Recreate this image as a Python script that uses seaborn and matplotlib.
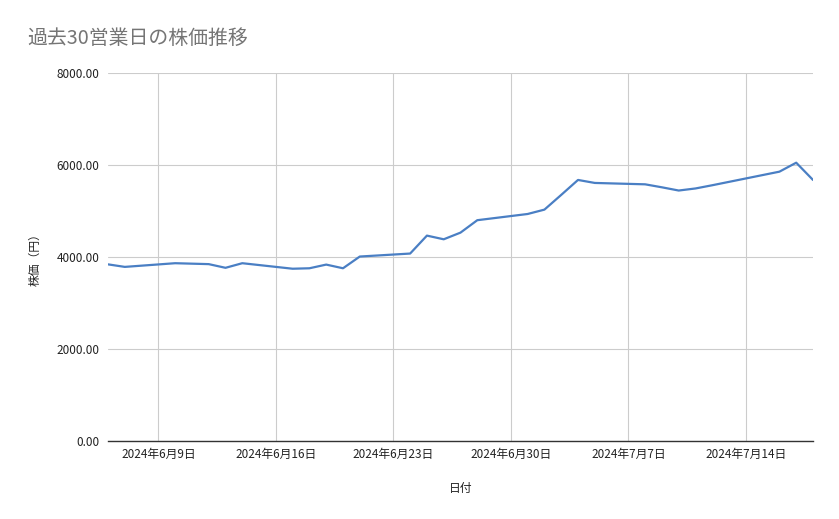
import matplotlib
matplotlib.use("Agg")
import matplotlib.pyplot as plt
import matplotlib.dates as mdates
from matplotlib.ticker import FuncFormatter, FixedLocator
import seaborn as sns
import pandas as pd

# Data
dates = [
    "2024-06-06", "2024-06-07",
    "2024-06-10", "2024-06-11", "2024-06-12", "2024-06-13", "2024-06-14",
    "2024-06-17", "2024-06-18", "2024-06-19", "2024-06-20", "2024-06-21",
    "2024-06-24", "2024-06-25", "2024-06-26", "2024-06-27", "2024-06-28",
    "2024-07-01", "2024-07-02", "2024-07-03", "2024-07-04", "2024-07-05",
    "2024-07-08", "2024-07-09", "2024-07-10", "2024-07-11", "2024-07-12",
    "2024-07-16", "2024-07-17", "2024-07-18",
]
prices = [
    3840, 3785,
    3865, 3855, 3845, 3765, 3865,
    3745, 3755, 3835, 3755, 4010,
    4075, 4465, 4385, 4530, 4800,
    4935, 5030, 5350, 5675, 5610,
    5580, 5515, 5445, 5490, 5560,
    5855, 6050, 5675,
]
tick_dates = ["2024-06-09", "2024-06-16", "2024-06-23", "2024-06-30", "2024-07-07", "2024-07-14"]
y_ticks = [0, 2000, 4000, 6000, 8000]
title = "過去30営業日の株価推移"
x_label = "日付"
y_label = "株価（円）"

df = pd.DataFrame({"date": pd.to_datetime(dates), "price": prices})

sns.set_theme(style="white")
plt.rcParams["font.family"] = ["Noto Sans CJK JP", "DejaVu Sans"]

fig = plt.figure(figsize=(8.39, 5.19), dpi=100)
ax = fig.add_axes([108 / 839, 1 - 441 / 519, (813 - 108) / 839, (441 - 73) / 519])

sns.lineplot(data=df, x="date", y="price", ax=ax, color="#4a7fc4", linewidth=1.6)

ax.set_xlim(pd.Timestamp("2024-06-06"), pd.Timestamp("2024-07-18"))
ax.set_ylim(0, 8000)

ax.xaxis.set_major_locator(FixedLocator([mdates.date2num(pd.Timestamp(d)) for d in tick_dates]))
ax.xaxis.set_major_formatter(FuncFormatter(
    lambda v, p: (lambda d: f"{d.year}年{d.month}月{d.day}日")(mdates.num2date(v))))
ax.set_yticks(y_ticks)
ax.yaxis.set_major_formatter(FuncFormatter(lambda v, p: f"{v:.2f}"))

ax.grid(True, color="#cccccc", linewidth=0.8)
ax.set_axisbelow(True)
for s in ["top", "right", "left"]:
    ax.spines[s].set_visible(False)
ax.spines["bottom"].set_color("#333333")
ax.spines["bottom"].set_linewidth(1.0)
ax.tick_params(axis="both", length=0, labelsize=8.5, colors="#222222")
ax.tick_params(axis="x", pad=5)
ax.tick_params(axis="y", pad=6)

ax.set_xlabel(x_label, fontsize=8.5, color="#222222", labelpad=15)
ax.set_ylabel(y_label, fontsize=8.5, color="#222222", labelpad=11)

fig.text(27 / 839, 1 - 38 / 519, title, fontsize=14.3, color="#757575", ha="left", va="center")

fig.savefig("out.png", dpi=100, facecolor="white")
